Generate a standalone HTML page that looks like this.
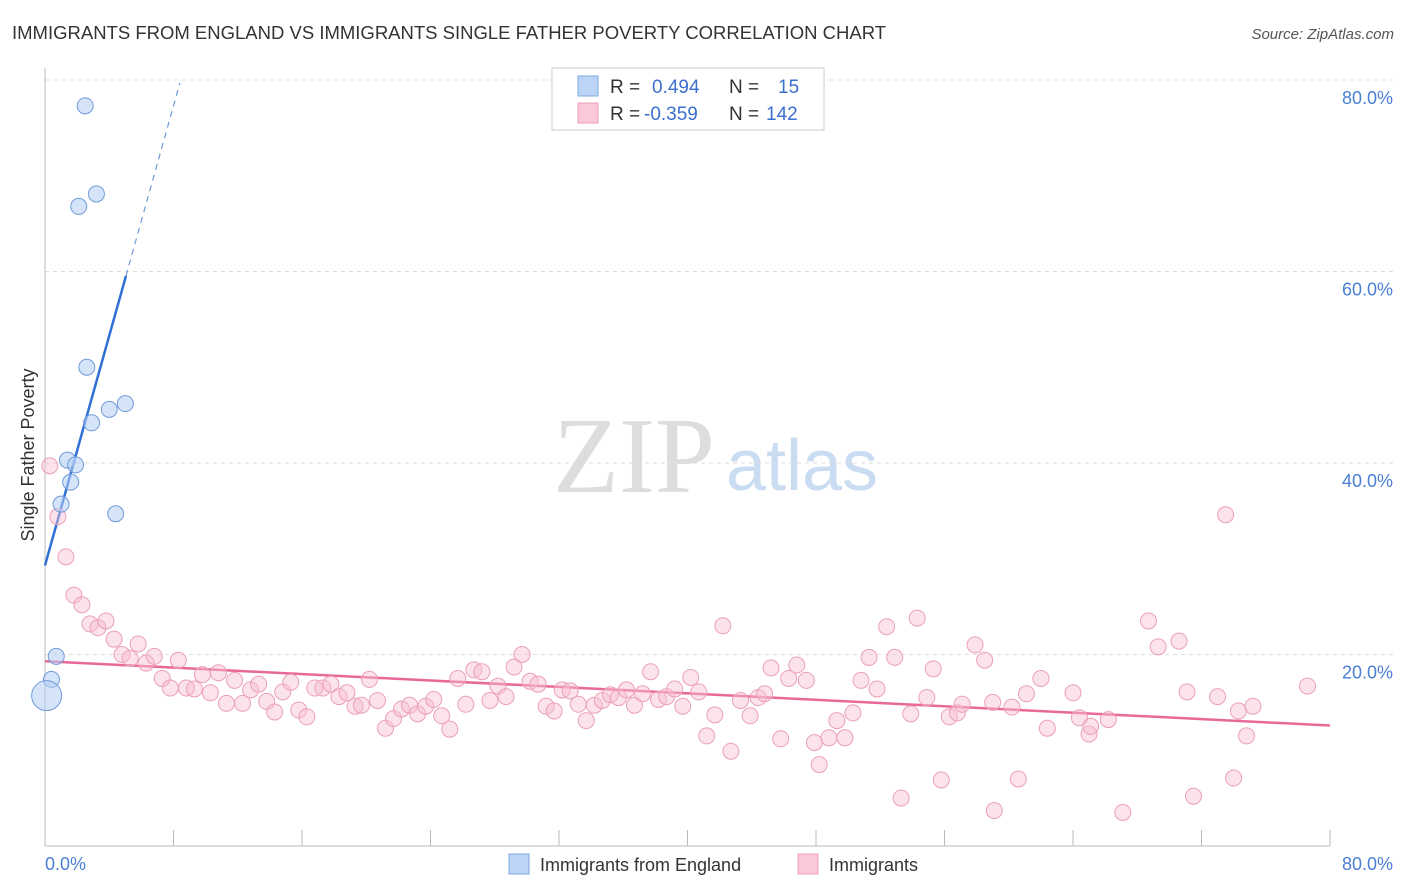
<!DOCTYPE html>
<html><head><meta charset="utf-8"><style>
body{margin:0;background:#fff;font-family:"Liberation Sans",sans-serif;}
#wrap{position:relative;width:1406px;height:892px;overflow:hidden;}
</style></head><body>
<div id="wrap">
<svg id="svg" width="1406" height="892" xmlns="http://www.w3.org/2000/svg">
<text x="12" y="39" font-size="18.5" fill="#333">IMMIGRANTS FROM ENGLAND VS IMMIGRANTS SINGLE FATHER POVERTY CORRELATION CHART</text>
<text x="1394" y="39" font-size="15" fill="#555" font-style="italic" text-anchor="end">Source: ZipAtlas.com</text>
<text x="634" y="492" font-size="108" fill="#ddd" font-family="Liberation Serif,serif" text-anchor="middle">ZIP</text>
<text x="802" y="490" font-size="72" fill="#c9dcf2" text-anchor="middle">atlas</text>
<g id="grid"></g><g id="axes"></g><g id="trend"></g><g id="pts"></g>
<text transform="translate(34,455) rotate(-90)" font-size="18" fill="#333" text-anchor="middle">Single Father Poverty</text>
<g>
<rect x="552" y="68" width="272" height="62" fill="#fff" stroke="#ccc"/>
<rect x="578" y="76" width="20" height="20" fill="#bcd4f6" stroke="#7fa8e0"/>
<rect x="578" y="103" width="20" height="20" fill="#fac8d6" stroke="#eba0b6"/>
<text x="610" y="93" font-size="19" fill="#333">R = </text><text x="652" y="93" font-size="19" fill="#3a6fd0">0.494</text>
<text x="729" y="93" font-size="19" fill="#333">N = </text><text x="778" y="93" font-size="19" fill="#3a6fd0">15</text>
<text x="610" y="120" font-size="19" fill="#333">R = </text><text x="644" y="120" font-size="19" fill="#3a6fd0">-0.359</text>
<text x="729" y="120" font-size="19" fill="#333">N = </text><text x="766" y="120" font-size="19" fill="#3a6fd0">142</text>
</g>
<g>
<rect x="509" y="854" width="20" height="20" fill="#bcd4f6" stroke="#7fa8e0"/>
<text x="540" y="871" font-size="18" fill="#333">Immigrants from England</text>
<rect x="798" y="854" width="20" height="20" fill="#fac8d6" stroke="#eba0b6"/>
<text x="829" y="871" font-size="18" fill="#333">Immigrants</text>
</g>
</svg>
</div>
<script>
const blueX=[2.5,2.1,3.2,2.6,4.0,5.0,2.9,1.4,1.9,1.6,1.0,4.4,0.7,0.4,0.1];
const blueY=[77.3,66.8,68.1,50.0,45.6,46.2,44.2,40.3,39.8,38.0,35.7,34.7,19.8,17.4,15.7];
const pinkX=[0.3,0.8,1.3,1.8,2.3,2.8,3.3,3.8,4.3,4.8,5.3,5.8,6.3,6.8,7.3,7.8,8.3,8.8,9.3,9.8,10.3,10.8,11.3,11.8,12.3,12.8,13.3,13.8,14.3,14.8,15.3,15.8,16.3,16.8,17.3,17.8,18.3,18.8,19.3,19.7,20.2,20.7,21.2,21.7,22.2,22.7,23.2,23.7,24.2,24.7,25.2,25.7,26.2,26.7,27.2,27.7,28.2,28.7,29.2,29.7,30.2,30.7,31.2,31.7,32.2,32.7,33.2,33.7,34.2,34.7,35.2,35.7,36.2,36.7,37.2,37.7,38.2,38.7,39.2,39.7,40.2,40.7,41.2,41.7,42.2,42.7,43.3,43.9,44.4,44.8,45.2,45.8,46.3,46.8,47.4,47.9,48.2,48.8,49.3,49.8,50.3,50.8,51.3,51.8,52.4,52.9,53.3,53.9,54.3,54.9,55.3,55.8,56.3,56.8,57.1,57.9,58.5,59.0,59.1,60.2,60.6,61.1,62.0,62.4,64.0,64.4,65.0,65.1,66.2,67.1,68.7,69.3,70.6,71.1,71.5,73.0,73.5,74.0,74.3,74.8,75.2,78.6];
const pinkY=[39.7,34.4,30.2,26.2,25.2,23.2,22.8,23.5,21.6,20.0,19.6,21.1,19.1,19.8,17.5,16.5,19.4,16.5,16.4,17.9,16.0,18.1,14.9,17.3,14.9,16.3,16.9,15.1,14.0,16.1,17.1,14.2,13.5,16.5,16.5,16.9,15.6,16.0,14.6,14.7,17.4,15.2,12.3,13.3,14.3,14.7,13.8,14.6,15.3,13.6,12.2,17.5,14.8,18.4,18.2,15.2,16.7,15.6,18.7,20.0,17.2,16.9,14.6,14.1,16.3,16.2,14.8,13.1,14.7,15.2,15.8,15.5,16.3,14.7,15.9,18.2,15.3,15.6,16.4,14.6,17.6,16.1,11.5,13.7,23.0,9.9,15.2,13.6,15.5,15.9,18.6,11.2,17.5,18.9,17.3,10.8,8.5,11.3,13.1,11.3,13.9,17.3,19.7,16.4,22.9,19.7,5.0,13.8,23.8,15.5,18.5,6.9,13.5,13.9,14.8,21.0,19.4,15.0,3.7,14.5,7.0,15.9,17.5,12.3,16.0,13.4,11.7,12.5,13.2,3.5,23.5,20.8,21.4,16.1,5.2,15.6,34.6,7.1,14.1,11.5,14.6,16.7];
const yTicks=[20,40,60,80];
const blueTrend=[29.3,6.0];
const pinkTrend=[19.3,-0.084];
const NS='http://www.w3.org/2000/svg';
const sx=v=>45+v/80*1285, sy=v=>846-v/20*191.5;
function mk(tag,attrs,parent){const e=document.createElementNS(NS,tag);for(const k in attrs)e.setAttribute(k,attrs[k]);document.getElementById(parent).appendChild(e);return e;}
yTicks.forEach(t=>{
 const g=mk('line',{x1:45,x2:1393,y1:sy(t),y2:sy(t),stroke:'#ddd','stroke-dasharray':'4,4'},'grid');
 
 
 const l=mk('text',{x:1393,y:sy(t)+24,'font-size':18,fill:'#4a7fd4','text-anchor':'end'},'grid');l.textContent=t.toFixed(1)+'%';
 
 
});
const ax=mk('line',{x1:45,x2:1330,y1:846,y2:846,stroke:'#bbb'},'axes');


const ay=mk('line',{x1:45,x2:45,y1:68,y2:846,stroke:'#bbb'},'axes');


for(let i=1;i<=10;i++){const t=mk('line',{x1:sx(i*8),x2:sx(i*8),y1:830,y2:846,stroke:'#bbb'},'axes');
 
 }
const x0=mk('text',{x:45,y:870,'font-size':18,fill:'#4a7fd4'},'axes');x0.textContent='0.0%';


const x1=mk('text',{x:1393,y:870,'font-size':18,fill:'#4a7fd4','text-anchor':'end'},'axes');x1.textContent='80.0%';


pinkX.forEach((x,i)=>{const c=mk('circle',{cx:sx(x),cy:sy(pinkY[i]),r:8,fill:'rgba(248,190,208,0.45)',stroke:'#eba0b6','stroke-width':1},'pts');
 
 });
blueX.forEach((x,i)=>{const c=mk('circle',{cx:sx(x),cy:sy(blueY[i]),r:i==14?15:8,fill:'rgba(180,206,244,0.55)',stroke:'#6f9ad8','stroke-width':1},'pts');
 
 });
const bl=mk('line',{x1:sx(0),y1:sy(blueTrend[0]),x2:sx(5.04),y2:sy(blueTrend[0]+blueTrend[1]*5.04),stroke:'#2f6fd6','stroke-width':2.5},'trend');


const bd=mk('line',{x1:sx(5.04),y1:sy(blueTrend[0]+blueTrend[1]*5.04),x2:sx(8.4),y2:sy(blueTrend[0]+blueTrend[1]*8.4),stroke:'#6f9ad8','stroke-width':1.2,'stroke-dasharray':'6,5'},'trend');


const pl=mk('line',{x1:sx(0),y1:sy(pinkTrend[0]),x2:sx(80),y2:sy(pinkTrend[0]+pinkTrend[1]*80),stroke:'#e8689a','stroke-width':2.5},'trend');


</script>
</body></html>
